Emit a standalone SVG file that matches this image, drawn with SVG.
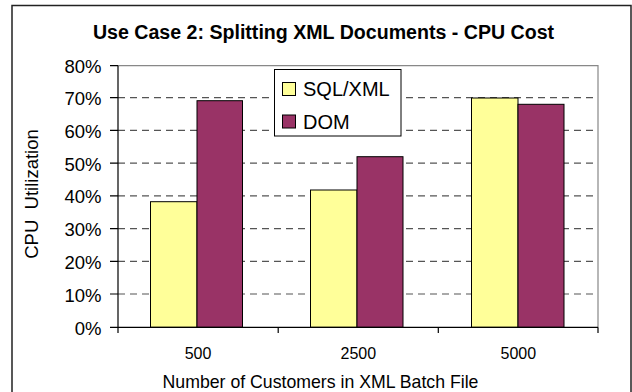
<svg xmlns="http://www.w3.org/2000/svg" width="632" height="392" viewBox="0 0 632 392">
<style>
text{font-family:"Liberation Sans",Arial,sans-serif;fill:#000}
.yl{font-size:18.5px;text-anchor:end}
.xl{font-size:16px;text-anchor:middle}
.grid{stroke:#555;stroke-width:1.2;stroke-dasharray:7 5;fill:none}
.sql{fill:#FFFF99;stroke:#000;stroke-width:1}
.dom{fill:#993366;stroke:#000;stroke-width:1}
.ax{stroke:#000;stroke-width:1.2;fill:none}
</style>
<rect x="0" y="0" width="632" height="392" fill="#fff"/>
<rect id="frame" x="12" y="5.5" width="619" height="400" fill="#fff" stroke="#222" stroke-width="1.5"/>
<text id="title" x="323.5" y="39" font-size="19.6" font-weight="bold" text-anchor="middle">Use Case 2: Splitting XML Documents - CPU Cost</text>
<g id="gridlines">
<path class="grid" d="M118 97.7H598M118 130.4H598M118 163.1H598M118 195.9H598M118 228.6H598M118 261.3H598M118 294H598"/>
</g>
<path d="M118 65.7H598V327.3" fill="none" stroke="#888" stroke-width="1.2"/>
<g id="bars">
<g id="bar-500"><rect class="sql" x="150.5" y="201.7" width="46.5" height="125.6"/><rect class="dom" x="197" y="100.7" width="45.5" height="226.6"/></g>
<g id="bar-2500"><rect class="sql" x="310.5" y="190" width="46.5" height="137.3"/><rect class="dom" x="357" y="156.7" width="46" height="170.6"/></g>
<g id="bar-5000"><rect class="sql" x="471.5" y="98" width="46.5" height="229.3"/><rect class="dom" x="518" y="104.3" width="46" height="223"/></g>
</g>
<g id="axes">
<path class="ax" d="M118 65.7V333M110 65.7H118M110 97.7H118M110 130.4H118M110 163.1H118M110 195.9H118M110 228.6H118M110 261.3H118M110 294H118M110 327.3H598M278.2 327.3V333M438.3 327.3V333M598 327.3V333"/>
</g>
<g id="ylabels">
<text class="yl" x="101.5" y="73.2">80%</text>
<text class="yl" x="101.5" y="105.2">70%</text>
<text class="yl" x="101.5" y="137.9">60%</text>
<text class="yl" x="101.5" y="170.6">50%</text>
<text class="yl" x="101.5" y="203.4">40%</text>
<text class="yl" x="101.5" y="236.1">30%</text>
<text class="yl" x="101.5" y="268.8">20%</text>
<text class="yl" x="101.5" y="301.5">10%</text>
<text class="yl" x="101.5" y="334.8">0%</text>
</g>
<g id="xlabels">
<text class="xl" x="198" y="359">500</text>
<text class="xl" x="358.3" y="359">2500</text>
<text class="xl" x="518.3" y="359">5000</text>
</g>
<text id="xtitle" x="320.5" y="388.3" font-size="17.7" text-anchor="middle">Number of Customers in XML Batch File</text>
<text id="ytitle" transform="translate(38 194) rotate(-90)" font-size="18.5" text-anchor="middle" style="white-space:pre">CPU  Utilization</text>
<g id="legend">
<rect x="274.5" y="69.5" width="126.5" height="66.5" fill="#fff" stroke="#000" stroke-width="1"/>
<rect class="sql" x="282.5" y="82.5" width="13" height="13"/>
<text x="303" y="96" font-size="20">SQL/XML</text>
<rect class="dom" x="282.5" y="115" width="13" height="13"/>
<text x="303" y="128.5" font-size="20">DOM</text>
</g>
</svg>
